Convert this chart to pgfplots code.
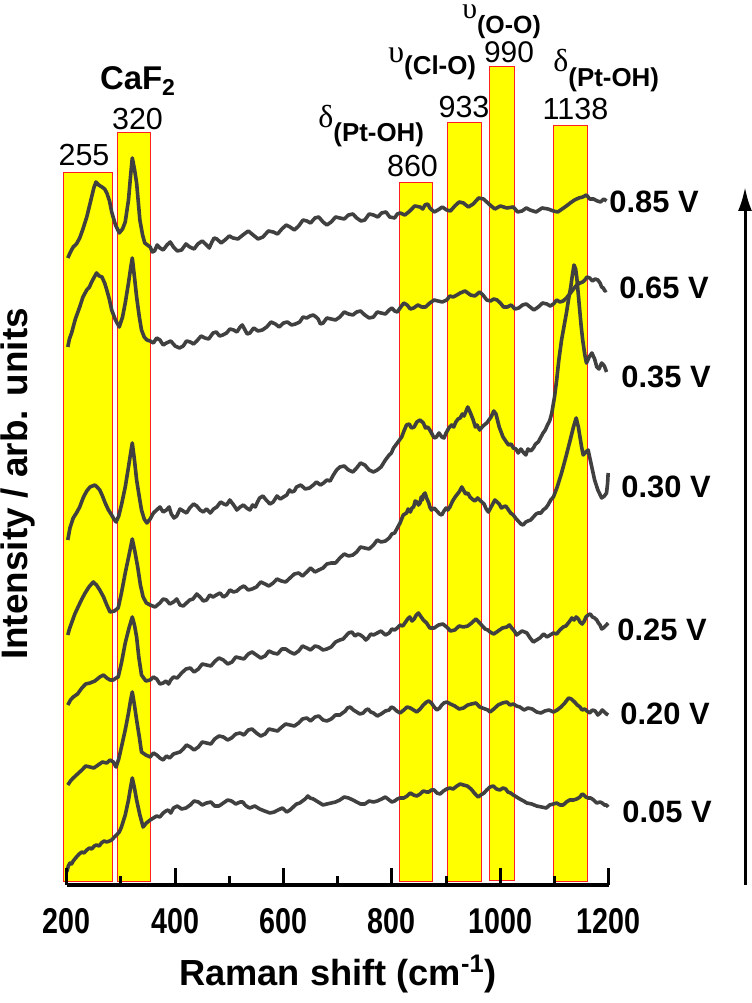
\documentclass[border=0pt]{standalone}
\usepackage{pgfplots}
\pgfplotsset{compat=1.18}
\usepackage{fontspec}
\setmainfont{Liberation Sans}
\newfontfamily\greekfont{Liberation Serif}
\usetikzlibrary{arrows.meta}
\definecolor{curve}{HTML}{404040}
\definecolor{bandred}{HTML}{FF2020}
\definecolor{bandyellow}{HTML}{FFFF00}

\begin{document}
\begin{tikzpicture}
\useasboundingbox (-33.35bp,-59bp) rectangle (342.65bp,442.5bp);
\begin{axis}[
  at={(0,0)}, anchor=south west,
  scale only axis, width=271bp, height=442.5bp,
  xmin=200, xmax=1200, ymin=0, ymax=885,
  axis x line*=bottom, axis y line=none,
  axis on top,
  clip=false,
  xtick={200,400,...,1200}, minor x tick num=1,
  tick align=inside,
  major tick length=8.5bp, minor tick length=4.5bp,
  major tick style={line width=1.5bp, black},
  minor tick style={line width=1.5bp, black},
  axis line style={line width=2bp, black},
  /pgf/number format/assume math mode=true,
  /pgf/number format/set thousands separator={},
  xticklabel style={font=\fontsize{18}{18}\selectfont\bfseries, anchor=base, yshift=-24bp, xscale=0.8, inner sep=0pt},
  ytick=\empty,
  every axis plot/.append style={no marks},
]
% bands
\addplot[fill=bandyellow, draw=bandred, line width=0.5bp] coordinates {(193.7,3) (193.7,712) (284.1,712) (284.1,3)} --cycle;
\addplot[fill=bandyellow, draw=bandred, line width=0.5bp] coordinates {(294.1,3) (294.1,752) (355.5,752) (355.5,3)} --cycle;
\addplot[fill=bandyellow, draw=bandred, line width=0.5bp] coordinates {(813.7,3) (813.7,702) (874.5,702) (874.5,3)} --cycle;
\addplot[fill=bandyellow, draw=bandred, line width=0.5bp] coordinates {(903,3) (903,762) (965,762) (965,3)} --cycle;
\addplot[fill=bandyellow, draw=bandred, line width=0.5bp] coordinates {(980.4,4) (980.4,818) (1026.6,818) (1026.6,4)} --cycle;
\addplot[fill=bandyellow, draw=bandred, line width=0.5bp] coordinates {(1099,3) (1099,759) (1161,759) (1161,3)} --cycle;

% 0.85 V
\addplot[curve, line width=1.8bp, line join=round] coordinates {
(202,627) (207,633) (212,638) (218,641) (224,647) (230,656) (237,668) (242,679) (246,688) (250,697) (254,703) (259,700) (265,698) (270,696) (274,692) (279,684) (283,673) (290,660) (297,652)
(303,656) (308,663) (314,685) (318,710) (321,727) (325,716) (329,702) (335,665) (340,650) (344,642) (349,640)
(354,638) (358,633) (362,634) (367,640) (372,637) (378,635) (385,640) (391,643) (397,638) (404,634) (412,635) (420,641) (427,638) (435,636) (442,641) (450,644) (458,640) (463,637) (468,643) (472,647) (477,646) (485,642) (492,645) (500,649) (507,647) (516,646) (525,650) (535,654) (544,650) (553,646) (562,648) (572,654) (581,653) (589,651) (597,656) (605,660) (612,658) (620,655) (628,659) (636,665) (643,664) (650,662) (658,667) (665,668) (673,663) (680,660) (688,663) (696,668) (704,667) (712,666) (720,670) (728,671) (735,667) (743,664) (750,665) (758,671) (766,670) (774,668) (781,672) (789,673) (796,668) (805,667) (810,671) (815,672) (824,670) (833,674) (842,679) (852,678) (857,676) (861,680) (866,681) (870,677) (878,673) (885,675) (893,678) (901,675) (908,674) (916,679) (924,683) (932,682) (941,678) (950,681) (960,687) (969,686) (975,683) (981,680) (990,676) (1000,679) (1012,677) (1024,678) (1032,673) (1040,674) (1048,677) (1055,675) (1066,673) (1077,677) (1088,676) (1098,674) (1106,673) (1114,676) (1122,679) (1129,682) (1137,685) (1145,687) (1152,688) (1159,690) (1165,686) (1172,686) (1179,684) (1185,683) (1191,686) (1196,684)};

% 0.65 V
\addplot[curve, line width=1.8bp, line join=round] coordinates {
(202,538) (205,546) (209,552) (216,566) (224,578) (230,588) (237,595) (242,598) (246,603) (251,608) (255,612) (260,609) (265,608) (270,602) (274,595) (279,585) (283,575) (290,565) (297,558)
(303,568) (308,582) (314,602) (318,617) (321,627) (325,608) (329,588) (334,568) (338,555) (343,548)
(348,545) (354,544) (360,542) (366,547) (372,545) (378,540) (384,542) (392,544) (400,539) (408,537) (415,539) (421,544) (428,543) (434,541) (440,544) (448,549) (455,547) (462,546) (470,552) (476,553) (482,549) (488,550) (495,552) (501,556) (508,555) (514,553) (520,558) (524,560) (528,556) (533,551) (538,552) (545,557) (553,554) (561,555) (569,558) (577,563) (585,561) (592,558) (600,562) (607,563) (615,560) (622,561) (630,563) (636,568) (643,567) (649,569) (655,570) (660,568) (664,566) (668,561) (673,562) (680,567) (688,566) (696,565) (704,568) (712,573) (720,571) (728,570) (735,573) (742,574) (750,570) (758,567) (766,568) (773,573) (780,572) (788,571) (795,575) (800,577) (805,574) (810,573) (815,577) (822,582) (828,580) (834,576) (840,577) (848,580) (855,578) (862,578) (870,582) (878,585) (885,584) (893,583) (901,585) (907,589) (913,588) (920,590) (926,592) (935,594) (945,590) (953,589) (962,593) (968,590) (975,585) (982,584) (988,586) (994,585) (1000,582) (1006,578) (1013,578) (1020,580) (1027,576) (1034,577) (1041,580) (1048,581) (1055,578) (1062,575) (1070,578) (1078,582) (1086,581) (1092,579) (1098,581) (1104,585) (1110,583) (1116,584) (1122,587) (1128,591) (1135,596) (1141,600) (1147,602) (1152,603) (1156,605) (1160,608) (1165,607) (1170,604) (1175,606) (1180,605) (1184,602) (1187,598) (1190,597) (1193,594) (1196,595)};

% 0.35 V
\addplot[curve, line width=1.8bp, line join=round] coordinates {
(202,345) (206,357) (212,367) (218,372) (224,378) (231,388) (237,394) (243,398) (252,400) (256,398) (261,395) (266,389) (271,382) (277,375) (283,370) (287,366) (291,363) (296,369) (301,380) (308,398) (314,418) (318,432) (321,442) (325,425) (329,405) (334,388) (338,375) (343,366)
(348,362) (354,366) (360,372) (366,375) (372,378) (378,373) (384,375) (389,378) (393,371) (398,367) (403,369) (409,376) (415,374) (421,372) (427,377) (434,381) (440,379) (446,375) (452,373) (458,376) (465,372) (471,376) (477,378) (484,383) (490,381) (495,380) (501,385) (508,380) (514,375) (520,378) (526,380) (532,377) (538,375) (543,380) (548,378) (552,383) (556,387) (562,389) (568,385) (575,381) (581,383) (588,389) (594,386) (600,388) (606,390) (611,395) (615,393) (620,394) (624,398) (632,400) (640,396) (648,397) (655,400) (661,403) (668,400) (674,402) (680,405) (686,404) (692,410) (698,415) (704,418) (712,419) (720,415) (728,413) (735,417) (742,422) (750,420) (758,415) (766,413) (773,415) (780,418) (788,425) (795,430) (799,432) (803,437) (810,442) (818,448) (823,455) (827,460) (832,461) (836,457) (841,458) (846,463) (852,465) (858,462) (862,457) (866,458) (870,455) (873,452) (878,447) (882,448) (887,452) (892,448) (896,447) (900,452) (905,457) (910,460) (914,458) (918,463) (922,466) (926,467) (930,471) (933,469) (937,474) (940,478) (945,472) (950,465) (954,458) (957,460) (960,457) (962,455) (968,459) (975,462) (979,465) (983,468) (988,474) (992,471) (998,458) (1005,448) (1010,444) (1015,440) (1020,441) (1024,437) (1029,436) (1033,432) (1038,436) (1042,433) (1047,430) (1051,436) (1056,434) (1061,437) (1065,441) (1070,443) (1075,448) (1079,452) (1083,455) (1087,460) (1091,464) (1095,472)
(1100,488) (1104,505) (1108,525) (1113,545) (1118,560) (1122,572) (1126,586) (1130,598) (1133,610) (1136,620) (1139,616) (1141,608) (1146,578) (1149,560) (1152,545) (1156,530) (1159,522) (1164,528) (1169,532) (1174,526) (1178,518) (1182,516) (1187,522) (1192,519) (1196,513)};

% 0.30 V
\addplot[curve, line width=1.8bp, line join=round] coordinates {
(202,250) (205,256) (209,262) (215,271) (221,278) (228,286) (234,292) (241,298) (249,303) (255,300) (261,295) (268,288) (274,280) (280,273) (288,274) (295,277) (301,292) (308,312) (315,330) (321,346) (326,333) (331,318) (336,300) (341,288) (347,282)
(354,280) (363,278) (372,282) (378,286) (384,285) (390,281) (397,283) (403,286) (409,280) (415,279) (421,282) (427,285) (433,286) (440,291) (446,288) (452,284) (458,285) (464,290) (470,288) (476,290) (483,292) (489,288) (495,290) (501,295) (508,293) (514,294) (520,297) (527,299) (535,295) (542,296) (550,298) (558,303) (566,301) (573,299) (581,302) (588,306) (596,304) (604,303) (612,307) (620,311) (628,312) (635,309) (643,313) (650,317) (658,313) (665,315) (673,317) (680,321) (688,322) (696,322) (704,327) (712,331) (720,329) (728,330) (735,333) (742,338) (750,337) (758,336) (766,340) (773,345) (780,343) (788,344) (795,347) (800,351) (805,352) (810,357) (815,362) (821,370) (827,372) (830,376) (834,373) (837,377) (840,378) (843,384) (846,383) (849,380) (852,382) (854,388) (856,385) (858,390) (861,392) (864,387) (868,382) (870,378) (873,375) (878,377) (883,374) (888,371) (892,370) (896,374) (900,377) (903,375) (907,378) (912,384) (918,389) (924,393) (929,398) (932,395) (936,391) (940,392) (944,388) (948,386) (953,384) (958,387) (962,385) (966,383) (970,381) (974,376) (978,373) (984,379) (990,385) (994,383) (998,381) (1002,377) (1005,378) (1010,379) (1014,376) (1019,372) (1024,370) (1028,367) (1033,364) (1038,361) (1042,360) (1047,363) (1051,364) (1056,365) (1061,368) (1066,371) (1070,372) (1075,372) (1079,375) (1084,377) (1088,380) (1093,385) (1098,388)
(1105,398) (1113,412) (1121,428) (1129,445) (1135,458) (1140,467) (1144,458) (1147,448) (1150,438) (1153,430) (1158,433) (1162,435) (1168,420) (1174,405) (1180,395) (1187,387) (1192,389) (1196,392) (1198,402) (1199,412)};

% 0.25 V
\addplot[curve, line width=1.8bp, line join=round] coordinates {
(202,180) (207,185) (212,188) (220,191) (228,197) (235,201) (243,202) (252,204) (261,208) (268,210) (274,207) (280,205) (286,205) (291,207) (295,208) (301,222) (308,242) (315,257) (321,268) (325,260) (329,248) (333,228) (338,210)
(346,204) (354,205) (360,208) (366,206) (372,201) (378,202) (383,204) (388,201) (392,205) (397,208) (404,207) (412,212) (420,216) (428,217) (435,213) (443,216) (450,221) (458,220) (466,219) (474,224) (481,227) (489,225) (497,221) (505,223) (512,228) (520,227) (527,226) (535,231) (542,233) (550,230) (558,227) (566,229) (573,234) (581,232) (589,231) (597,236) (604,236) (612,233) (620,231) (628,234) (635,239) (643,237) (650,235) (658,239) (665,238) (673,235) (680,236) (688,238) (696,243) (704,245) (710,246) (715,249) (720,252) (726,253) (732,249) (737,251) (742,250) (747,248) (752,245) (756,247) (761,251) (766,250) (773,252) (780,254) (788,250) (795,252) (800,256) (805,255) (810,257) (815,260) (820,259) (824,262) (829,266) (833,268) (837,264) (841,266) (845,270) (849,272) (854,268) (858,265) (864,262) (870,257) (878,257) (886,260) (894,261) (901,258) (908,254) (916,255) (924,259) (932,258) (940,259) (947,262) (955,266) (962,262) (967,259) (972,256) (977,255) (981,253) (988,251) (996,254) (1004,257) (1012,258) (1017,260) (1021,257) (1026,254) (1030,250) (1035,252) (1040,254) (1045,253) (1049,252) (1055,247) (1061,243) (1067,245) (1073,247) (1080,251) (1086,248) (1092,250) (1098,252) (1104,251) (1110,255) (1116,258) (1121,259) (1127,263) (1132,267) (1136,265) (1140,268) (1144,266) (1147,263) (1151,261) (1155,264) (1158,268) (1162,270) (1166,271) (1170,268) (1174,267) (1178,265) (1181,262) (1184,260) (1187,256) (1190,257) (1194,259) (1199,262)};

% 0.20 V
\addplot[curve, line width=1.8bp, line join=round] coordinates {
(202,100) (207,104) (212,107) (220,111) (228,115) (235,119) (243,118) (250,117) (258,120) (266,123) (274,122) (280,125) (286,123) (291,118) (296,126) (301,138) (308,155) (314,172) (318,185) (321,193) (325,180) (329,165) (334,148) (338,133)
(346,130) (354,128) (360,132) (366,130) (372,127) (378,125) (384,129) (390,127) (397,131) (403,132) (409,133) (415,136) (421,140) (428,138) (435,135) (443,138) (450,143) (458,142) (466,141) (473,146) (481,149) (489,148) (497,145) (504,147) (512,151) (520,152) (527,150) (535,155) (542,156) (550,152) (558,149) (566,151) (573,156) (581,155) (589,154) (597,158) (604,161) (612,160) (620,159) (628,162) (635,166) (643,167) (650,164) (658,168) (665,169) (673,165) (680,164) (688,166) (696,170) (704,170) (709,172) (714,174) (718,177) (723,178) (729,175) (735,173) (741,171) (747,172) (752,175) (756,176) (761,173) (766,172) (773,169) (780,171) (788,174) (795,175) (799,178) (803,177) (809,174) (815,172) (822,175) (828,178) (834,177) (840,175) (846,173) (852,176) (858,180) (864,183) (868,184) (873,182) (878,178) (883,175) (888,177) (892,180) (896,182) (901,183) (908,181) (916,179) (924,176) (932,177) (940,180) (947,181) (955,182) (962,178) (967,177) (972,176) (977,175) (981,173) (988,176) (996,180) (1004,182) (1012,183) (1018,180) (1024,181) (1030,179) (1036,178) (1044,175) (1051,177) (1059,176) (1067,173) (1075,172) (1082,174) (1090,175) (1098,173) (1105,175) (1112,178) (1119,182) (1126,187) (1131,186) (1137,183) (1142,180) (1147,178) (1151,175) (1156,176) (1160,174) (1165,172) (1170,175) (1175,174) (1180,170) (1184,172) (1188,175) (1192,173) (1196,171) (1199,170)};

% 0.05 V
\addplot[curve, line width=1.8bp, line join=round] coordinates {
(200,13) (203,19) (206,22) (209,21) (212,24) (218,28) (223,31) (228,33) (232,32) (237,35) (242,37) (246,36) (251,39) (255,40) (260,39) (264,42) (269,44) (274,43) (279,44) (283,45) (288,48) (292,50) (297,53) (301,58) (308,70) (314,85) (318,98) (321,107) (325,97) (329,85) (335,70) (341,58)
(347,62) (354,65) (360,67) (366,69) (372,68) (378,72) (383,74) (387,75) (392,72) (397,77) (404,79) (412,76) (420,77) (428,80) (435,84) (443,83) (450,80) (458,82) (466,83) (473,79) (481,79) (489,82) (497,85) (504,84) (512,81) (520,83) (525,83) (529,80) (534,78) (538,77) (547,79) (556,76) (565,74) (575,72) (583,73) (590,75) (598,77) (606,73) (612,75) (618,78) (624,81) (630,82) (635,84) (640,86) (645,89) (649,87) (655,86) (661,84) (667,82) (673,80) (680,81) (688,82) (696,83) (704,85) (712,88) (720,87) (728,85) (735,83) (742,81) (750,81) (758,84) (766,83) (773,84) (781,86) (788,88) (795,85) (800,83) (805,84) (810,86) (815,87) (822,87) (828,89) (834,92) (840,90) (846,89) (852,91) (858,94) (864,93) (868,93) (873,95) (878,95) (883,92) (889,91) (895,94) (901,96) (907,97) (913,96) (920,99) (926,101) (932,100) (939,99) (946,96) (952,92) (959,88) (964,90) (970,92) (975,95) (981,98) (987,99) (993,96) (999,95) (1005,97) (1010,96) (1014,93) (1019,92) (1024,90) (1030,88) (1036,86) (1043,84) (1049,82) (1058,81) (1067,79) (1076,78) (1085,77) (1091,80) (1098,81) (1104,82) (1110,80) (1116,80) (1122,83) (1128,85) (1135,85) (1141,86) (1147,88) (1151,91) (1154,90) (1158,88) (1162,87) (1167,87) (1172,85) (1178,82) (1184,83) (1188,82) (1192,80) (1196,80) (1199,78)};
\end{axis}

% axis labels
\node[rotate=90, anchor=base, inner sep=0pt, font=\fontsize{18.5}{18.5}\selectfont\bfseries] at (-19.85bp,200.5bp) {Intensity / arb. units};
\node[anchor=base, inner sep=0pt, font=\fontsize{18.2}{18.2}\selectfont\bfseries] at (135.65bp,-50bp) {Raman shift (cm\textsuperscript{-1})};

% band annotations
\node[anchor=base, inner sep=0pt, font=\fontsize{16.5}{16.5}\selectfont\bfseries] at (35.65bp,397.5bp) {CaF\textsubscript{2}};
\node[anchor=base, inner sep=0pt, font=\fontsize{15.3}{15.3}\selectfont] at (35.4bp,377.5bp) {320};
\node[anchor=base, inner sep=0pt, font=\fontsize{15.3}{15.3}\selectfont] at (8.65bp,359.5bp) {255};
\node[anchor=base, inner sep=0pt, font=\fontsize{15.3}{15.3}\selectfont] at (172.9bp,354bp) {860};
\node[anchor=base, inner sep=0pt, font=\fontsize{15.3}{15.3}\selectfont] at (198.65bp,383.5bp) {933};
\node[anchor=base, inner sep=0pt, font=\fontsize{15}{15}\selectfont] at (221.15bp,411bp) {990};
\node[anchor=base, inner sep=0pt, font=\fontsize{15.3}{15.3}\selectfont] at (254.4bp,382.5bp) {1138};

\node[anchor=base west, inner sep=0pt] at (125.65bp,378.5bp) {{\fontsize{16}{16}\selectfont\greekfont δ}\raisebox{-7bp}{\fontsize{13}{13}\selectfont\bfseries (Pt-OH)}};
\node[anchor=base west, inner sep=0pt] at (243.15bp,406.5bp) {{\fontsize{16}{16}\selectfont\greekfont δ}\raisebox{-7.5bp}{\fontsize{13}{13}\selectfont\bfseries (Pt-OH)}};
\node[anchor=base west, inner sep=0pt] at (160.65bp,411bp) {{\fontsize{16}{16}\selectfont\greekfont υ}\raisebox{-6bp}{\fontsize{13}{13}\selectfont\bfseries (Cl-O)}};
\node[anchor=base west, inner sep=0pt] at (197.65bp,433bp) {{\fontsize{15}{15}\selectfont\greekfont υ}\raisebox{-7.5bp}{\fontsize{12.5}{12.5}\selectfont\bfseries (O-O)}};

% potential labels
\begin{scope}[every node/.style={anchor=west, inner sep=0pt, font=\fontsize{15.5}{15.5}\selectfont\bfseries}]
\node at (271.15bp,341.5bp) {0.85 V};
\node at (276.15bp,298.5bp) {0.65 V};
\node at (277.15bp,254bp) {0.35 V};
\node at (277.15bp,199bp) {0.30 V};
\node at (275.15bp,127.5bp) {0.25 V};
\node at (276.65bp,85.5bp) {0.20 V};
\node at (277.65bp,36.5bp) {0.05 V};
\end{scope}

% arrow
\draw[line width=1.5bp, -{Latex[length=12bp,width=7bp]}] (339.15bp,0bp) -- (339.15bp,349bp);
\end{tikzpicture}
\end{document}
